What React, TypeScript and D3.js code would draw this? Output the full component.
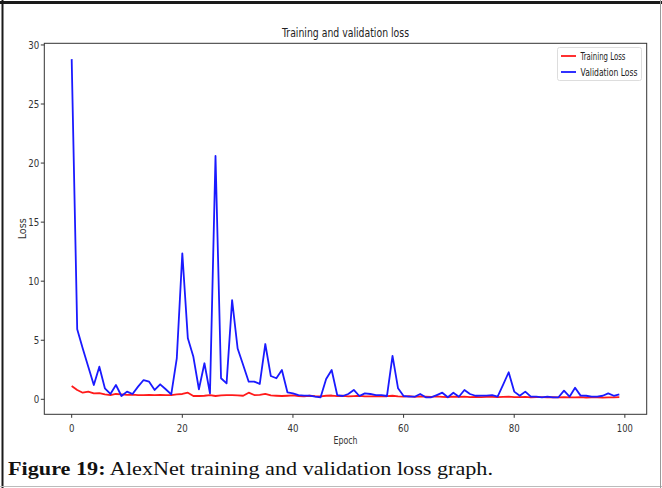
import React from "react";
import * as d3 from "d3";

const trainLoss = [
  1.13, 0.79, 0.56, 0.65, 0.5, 0.52, 0.42, 0.36, 0.45, 0.42,
  0.38, 0.4, 0.36, 0.35, 0.38, 0.36, 0.37, 0.35, 0.36, 0.42,
  0.45, 0.56, 0.28, 0.28, 0.3, 0.36, 0.28, 0.33, 0.36, 0.35,
  0.34, 0.3, 0.56, 0.36, 0.38, 0.45, 0.33, 0.3, 0.28, 0.3,
  0.33, 0.28, 0.25, 0.3, 0.26, 0.25, 0.3, 0.32, 0.27, 0.3,
  0.24, 0.27, 0.3, 0.25, 0.24, 0.27, 0.24, 0.26, 0.3, 0.25,
  0.22, 0.26, 0.2, 0.24, 0.22, 0.2, 0.24, 0.21, 0.19, 0.23,
  0.2, 0.22, 0.19, 0.2, 0.18, 0.21, 0.2, 0.18, 0.2, 0.22,
  0.19, 0.18, 0.2, 0.17, 0.19, 0.18, 0.16, 0.18, 0.17, 0.19,
  0.16, 0.17, 0.18, 0.15, 0.17, 0.16, 0.15, 0.17, 0.16, 0.18,
];

const valLoss = [
  28.8, 5.93, 4.3, 2.75, 1.21, 2.76, 0.93, 0.45, 1.21, 0.28,
  0.65, 0.45, 1.07, 1.63, 1.49, 0.79, 1.27, 0.85, 0.42, 3.47,
  12.36, 5.16, 3.6, 0.85, 3.05, 0.5, 20.6, 1.78, 1.35, 8.4,
  4.3, 2.9, 1.49, 1.49, 1.3, 4.68, 1.97, 1.78, 2.48, 0.59,
  0.5, 0.36, 0.31, 0.31, 0.22, 0.17, 1.72, 2.48, 0.36, 0.28,
  0.45, 0.79, 0.28, 0.5, 0.45, 0.36, 0.36, 0.28, 3.67, 0.93,
  0.28, 0.22, 0.22, 0.45, 0.17, 0.17, 0.36, 0.56, 0.17, 0.56,
  0.22, 0.79, 0.45, 0.3, 0.31, 0.31, 0.36, 0.22, 1.25, 2.29,
  0.65, 0.3, 0.65, 0.22, 0.22, 0.17, 0.22, 0.17, 0.17, 0.73,
  0.22, 0.98, 0.31, 0.3, 0.22, 0.22, 0.3, 0.5, 0.3, 0.42,
];

const xTicks = [0, 20, 40, 60, 80, 100];
const yTicks = [0, 5, 10, 15, 20, 25, 30];
const seriesNames = ["Training Loss", "Validation Loss"];
const seriesColors = ["#ff1a1a", "#1a1aff"];

const W = 662;
const H = 488;
const L = 44.3, R = 646.7, T = 43.3, B = 414.3;

export default function App() {
  const x = d3.scaleLinear().domain([-4.95, 103.95]).range([L, R]);
  const y = d3.scaleLinear().domain([-1.27, 30.14]).range([B, T]);
  const line = d3
    .line<number>()
    .x((_, i) => x(i))
    .y((d) => y(d));

  const font = "DejaVu Sans, sans-serif";
  const axisColor = "#333";

  return (
    <svg
      width={W}
      height={H}
      style={{ position: "absolute", left: 0, top: 0, background: "#fff" }}
    >
      <rect x={0} y={0} width={W} height={H} fill="#fff" />
      {/* frame */}
      <line x1={0} y1={2.5} x2={W} y2={2.5} stroke="#1a1a1a" strokeWidth={3} />
      <line x1={2.5} y1={0} x2={2.5} y2={H} stroke="#1a1a1a" strokeWidth={2} />
      <line x1={0} y1={486.5} x2={W} y2={486.5} stroke="#bbb" strokeWidth={1} />
      <line x1={660.5} y1={0} x2={660.5} y2={H} stroke="#999" strokeWidth={1} />

      {/* title */}
      <text
        x={(L + R) / 2}
        y={37}
        textAnchor="middle"
        fontFamily={font}
        fontSize={11.5}
        textLength={127}
        lengthAdjust="spacingAndGlyphs"
        fill="#222"
      >
        Training and validation loss
      </text>

      {/* lines */}
      <path d={line(trainLoss) || ""} fill="none" stroke={seriesColors[0]} strokeWidth={1.8} strokeLinejoin="round" />
      <path d={line(valLoss) || ""} fill="none" stroke={seriesColors[1]} strokeWidth={1.8} strokeLinejoin="round" />

      {/* axes box */}
      <rect x={L} y={T} width={R - L} height={B - T} fill="none" stroke={axisColor} strokeWidth={1} />

      {/* x ticks */}
      {xTicks.map((t) => (
        <g key={"x" + t}>
          <line x1={x(t)} x2={x(t)} y1={B} y2={B + 3.5} stroke={axisColor} strokeWidth={1} />
          <text
            x={x(t)}
            y={432}
            textAnchor="middle"
            fontFamily={font}
            fontSize={10}
            textLength={t === 0 ? 5.5 : t === 100 ? 16 : 11}
            lengthAdjust="spacingAndGlyphs"
            fill="#333"
          >
            {t}
          </text>
        </g>
      ))}

      {/* y ticks */}
      {yTicks.map((t) => (
        <g key={"y" + t}>
          <line x1={L - 3.5} x2={L} y1={y(t)} y2={y(t)} stroke={axisColor} strokeWidth={1} />
          <text
            x={L - 5}
            y={y(t) + 3.6}
            textAnchor="end"
            fontFamily={font}
            fontSize={10}
            textLength={t < 10 ? 5.5 : 11}
            lengthAdjust="spacingAndGlyphs"
            fill="#333"
          >
            {t}
          </text>
        </g>
      ))}

      {/* axis labels */}
      <text
        x={(L + R) / 2}
        y={443.5}
        textAnchor="middle"
        fontFamily={font}
        fontSize={10}
        textLength={24}
        lengthAdjust="spacingAndGlyphs"
        fill="#333"
      >
        Epoch
      </text>
      <text
        transform={`translate(25.5, ${(T + B) / 2}) rotate(-90)`}
        textAnchor="middle"
        fontFamily={font}
        fontSize={10}
        textLength={21}
        lengthAdjust="spacingAndGlyphs"
        fill="#333"
      >
        Loss
      </text>

      {/* legend */}
      <rect x={557.5} y={47.5} width={84} height={33} rx={2} fill="#fff" stroke="#ddd" strokeWidth={1} />
      {seriesNames.map((n, i) => (
        <g key={n}>
          <line
            x1={561}
            x2={576}
            y1={56 + i * 16}
            y2={56 + i * 16}
            stroke={seriesColors[i]}
            strokeWidth={1.8}
          />
          <text
            x={580.5}
            y={59.5 + i * 16}
            fontFamily={font}
            fontSize={10}
            textLength={i === 0 ? 45 : 57}
            lengthAdjust="spacingAndGlyphs"
            fill="#222"
          >
            {n}
          </text>
        </g>
      ))}

      {/* caption */}
      <text
        x={8}
        y={475}
        fontFamily="Liberation Serif, DejaVu Serif, serif"
        fontSize={19}
        textLength={485}
        lengthAdjust="spacingAndGlyphs"
        fill="#111"
      >
        <tspan fontWeight="bold">Figure 19:</tspan>
        <tspan> AlexNet training and validation loss graph.</tspan>
      </text>
    </svg>
  );
}
